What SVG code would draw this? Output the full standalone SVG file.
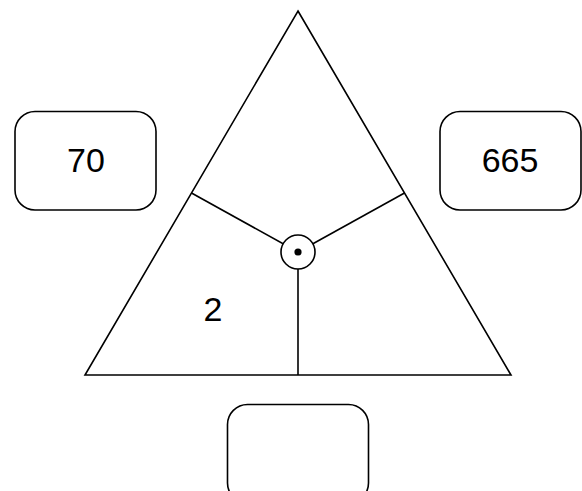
<svg xmlns="http://www.w3.org/2000/svg" width="582" height="491" viewBox="0 0 582 491">
<style>
.ln{stroke:#000;stroke-width:1.6;fill:none}
.box{stroke:#000;stroke-width:1.6;fill:#fff}
.t{font-family:"Liberation Sans","DejaVu Sans",sans-serif;font-size:34px;fill:#000;text-anchor:middle}
</style>
<rect width="582" height="491" fill="#fff"/>
<g id="triangle">
<polygon class="ln" points="298,11 511,375 85,375"/>
</g>
<g id="connectors">
<line class="ln" x1="298" y1="252" x2="191.5" y2="193"/>
<line class="ln" x1="298" y1="252" x2="404.5" y2="193"/>
<line class="ln" x1="298" y1="252" x2="298" y2="375"/>
</g>
<g id="center">
<circle cx="298" cy="252" r="17" fill="#fff" stroke="#000" stroke-width="1.6"/>
<circle cx="298" cy="252" r="3.6" fill="#000"/>
</g>
<g id="label-2"><text class="t" x="213" y="321">2</text></g>
<g id="box-left">
<rect class="box" x="15" y="111.5" width="141" height="98.5" rx="20"/>
<text class="t" x="86" y="172">70</text>
</g>
<g id="box-right">
<rect class="box" x="440" y="111.5" width="141" height="98.5" rx="20"/>
<text class="t" x="510" y="172">665</text>
</g>
<g id="box-bottom">
<rect class="box" x="227.5" y="404.5" width="141" height="98.5" rx="20"/>
</g>
</svg>
